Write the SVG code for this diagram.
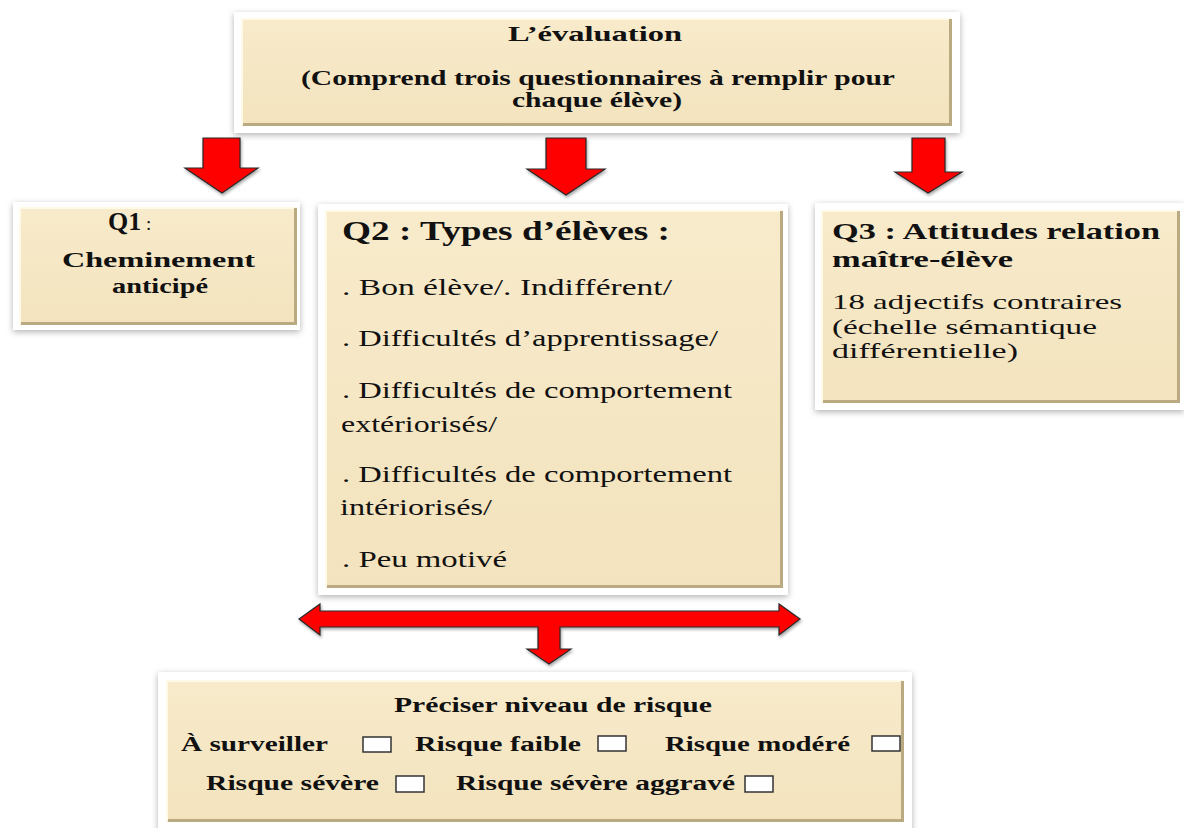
<svg xmlns="http://www.w3.org/2000/svg" width="1184" height="828" viewBox="0 0 1184 828">
<defs>
<filter id="sh" x="-10%" y="-10%" width="120%" height="130%">
<feDropShadow dx="0" dy="2" stdDeviation="3" flood-color="#000" flood-opacity="0.3"/>
</filter>
<filter id="ash" x="-10%" y="-10%" width="120%" height="130%">
<feDropShadow dx="1" dy="2" stdDeviation="1.5" flood-color="#000" flood-opacity="0.35"/>
</filter>
<linearGradient id="beige" x1="0" y1="0" x2="0" y2="1">
<stop offset="0" stop-color="#F8EBCB"/>
<stop offset="1" stop-color="#F3E3BE"/>
</linearGradient>
</defs>
<style>
.frame{fill:#fff;filter:url(#sh)}
.beige{fill:url(#beige);stroke:none}
.hi{fill:none;stroke:#FFF9E8;stroke-width:2}
.lo{fill:none;stroke:#B9AA82;stroke-width:3}
.arrow{fill:#FF0000;stroke:#2a2a2a;stroke-width:1.2;filter:url(#ash)}
text{font-family:"Liberation Serif","Times New Roman",serif;fill:#111}
.b{font-weight:bold}
.cb{fill:#fff;stroke:#333;stroke-width:1.5}
</style>
<rect width="1184" height="828" fill="#fff"/>

<g id="connectors">
<path class="arrow" d="M203,138 H240 V168 H258 L222,193 L185,168 H203 Z"/>
<path class="arrow" d="M546,138 H586 V169 H605 L566,195 L527,169 H546 Z"/>
<path class="arrow" d="M912,138 H945 V172 H962 L928,193 L895,172 H912 Z"/>
<path class="arrow" d="M299,619 L320,604 V611 H779 V604 L800,619 L779,635 V627 H560 V649 H571 L549,664 L527,649 H538 V627 H320 V635 Z"/>
</g>

<g id="node-evaluation">
<rect class="frame" x="234" y="12" width="726" height="121"/>
<rect class="beige" x="242" y="18" width="710" height="108"/>
<path class="hi" d="M242,125 V19 H952"/>
<path class="lo" d="M243,124.5 H950.5 V19"/>
<text class="b" x="508" y="41" font-size="21" textLength="174" lengthAdjust="spacingAndGlyphs">L’évaluation</text>
<text class="b" x="301" y="85" font-size="21" textLength="594" lengthAdjust="spacingAndGlyphs">(Comprend trois questionnaires à remplir pour</text>
<text class="b" x="512" y="107" font-size="21" textLength="170" lengthAdjust="spacingAndGlyphs">chaque élève)</text>
</g>

<g id="node-q1">
<rect class="frame" x="13" y="202" width="287" height="128"/>
<rect class="beige" x="20" y="207" width="277" height="118"/>
<path class="hi" d="M20,324 V208 H297"/>
<path class="lo" d="M21,323.5 H295.5 V208"/>
<text x="108" y="230" font-size="19"><tspan class="b" font-size="26">Q1</tspan> :</text>
<text class="b" x="62" y="267" font-size="20" textLength="193" lengthAdjust="spacingAndGlyphs">Cheminement</text>
<text class="b" x="112" y="293" font-size="20" textLength="96" lengthAdjust="spacingAndGlyphs">anticipé</text>
</g>

<g id="node-q2">
<rect class="frame" x="318" y="204" width="470" height="391"/>
<rect class="beige" x="326" y="210" width="457" height="378"/>
<path class="hi" d="M326,587 V211 H783"/>
<path class="lo" d="M327,586.5 H781.5 V211"/>
<text class="b" x="342" y="240" font-size="28" textLength="328" lengthAdjust="spacingAndGlyphs">Q2 : Types d’élèves :</text>
<text x="342" y="295" font-size="23" textLength="330" lengthAdjust="spacingAndGlyphs">. Bon élève/. Indifférent/</text>
<text x="342" y="346" font-size="23" textLength="376" lengthAdjust="spacingAndGlyphs">. Difficultés d’apprentissage/</text>
<text x="342" y="398" font-size="23" textLength="390" lengthAdjust="spacingAndGlyphs">. Difficultés de comportement</text>
<text x="341" y="432" font-size="23" textLength="156" lengthAdjust="spacingAndGlyphs">extériorisés/</text>
<text x="342" y="482" font-size="23" textLength="390" lengthAdjust="spacingAndGlyphs">. Difficultés de comportement</text>
<text x="340" y="515" font-size="23" textLength="152" lengthAdjust="spacingAndGlyphs">intériorisés/</text>
<text x="342" y="567" font-size="23" textLength="165" lengthAdjust="spacingAndGlyphs">. Peu motivé</text>
</g>

<g id="node-q3">
<rect class="frame" x="815" y="203" width="369" height="207"/>
<rect class="beige" x="822" y="210" width="358" height="193"/>
<path class="hi" d="M822,402 V211 H1180"/>
<path class="lo" d="M823,401.5 H1178.5 V211"/>
<text class="b" x="832" y="239" font-size="23" textLength="328" lengthAdjust="spacingAndGlyphs">Q3 : Attitudes relation</text>
<text class="b" x="832" y="267" font-size="23" textLength="181" lengthAdjust="spacingAndGlyphs">maître-élève</text>
<text x="832" y="309" font-size="21" textLength="290" lengthAdjust="spacingAndGlyphs">18 adjectifs contraires</text>
<text x="832" y="334" font-size="21" textLength="265" lengthAdjust="spacingAndGlyphs">(échelle sémantique</text>
<text x="832" y="358" font-size="21" textLength="186" lengthAdjust="spacingAndGlyphs">différentielle)</text>
</g>

<g id="node-risque">
<rect class="frame" x="158" y="672" width="754" height="160"/>
<rect class="beige" x="167" y="680" width="737" height="142"/>
<path class="hi" d="M167,821 V681 H904"/>
<path class="lo" d="M168,820.5 H902.5 V681"/>
<text class="b" x="394" y="712" font-size="20" textLength="318" lengthAdjust="spacingAndGlyphs">Préciser niveau de risque</text>
<text class="b" x="181" y="751" font-size="20" textLength="147" lengthAdjust="spacingAndGlyphs">À surveiller</text>
<rect class="cb" x="363" y="737" width="28" height="15"/>
<text class="b" x="415" y="751" font-size="20" textLength="166" lengthAdjust="spacingAndGlyphs">Risque faible</text>
<rect class="cb" x="598" y="736" width="28" height="15"/>
<text class="b" x="665" y="751" font-size="20" textLength="185" lengthAdjust="spacingAndGlyphs">Risque modéré</text>
<rect class="cb" x="872" y="736" width="28" height="15"/>
<text class="b" x="206" y="790" font-size="20" textLength="173" lengthAdjust="spacingAndGlyphs">Risque sévère</text>
<rect class="cb" x="396" y="776" width="28" height="16"/>
<text class="b" x="456" y="790" font-size="20" textLength="279" lengthAdjust="spacingAndGlyphs">Risque sévère aggravé</text>
<rect class="cb" x="745" y="776" width="28" height="16"/>
</g>
</svg>
